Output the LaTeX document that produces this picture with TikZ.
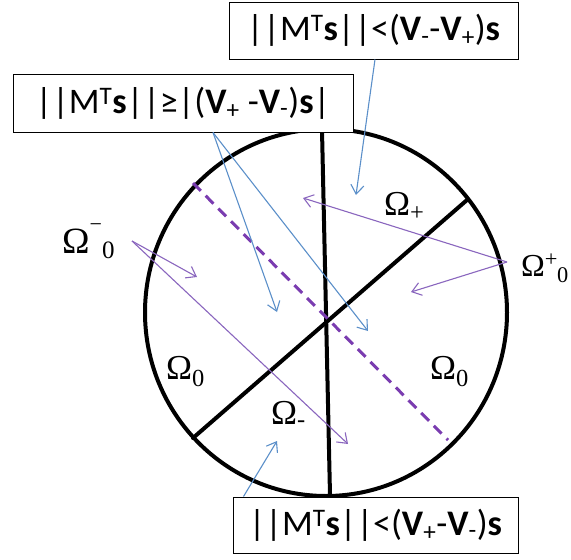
\documentclass[tikz,border=0pt]{standalone}
\usepackage{fontspec}
\setmainfont{Liberation Serif}
\newfontfamily\calib{Carlito}
\usetikzlibrary{arrows.meta}
\definecolor{bluearr}{HTML}{5B8FC9}
\definecolor{purparr}{HTML}{8A66BE}
\definecolor{purpdash}{HTML}{7A3CB0}
\begin{document}
\begin{tikzpicture}[x=1pt,y=-1pt,
  bx/.style={draw=black, line width=1pt, fill=white, inner sep=0pt, font=\calib\fontsize{36}{40}\selectfont},
  om/.style={font=\fontsize{35}{38}\selectfont, inner sep=0pt, anchor=base west},
  barr/.style={draw=bluearr, line width=1.1pt, -{Straight Barb[length=9pt,width=13pt]}},
  parr/.style={draw=purparr, line width=1.1pt, -{Straight Barb[length=9pt,width=13pt]}},
  heavy/.style={line width=4pt, line cap=round}]
\useasboundingbox (0,0) rectangle (571,560);
% circle and dividing lines
\draw[heavy] (326,312.5) ellipse [x radius=181, y radius=183.5];
\coordinate (vt) at (322,130);
\coordinate (vb) at (330,495);
\coordinate (dl) at (193,438);
\coordinate (du) at (467,200);
\draw[heavy] (vt) -- (vb);
\draw[heavy] (dl) -- (du);
\coordinate (ds) at (193,183);
\coordinate (de) at (448,440);
\draw[purpdash, line width=3pt, dash pattern=on 11pt off 7pt] (ds) -- (de);
% boxes
\node[bx, minimum width=289pt, minimum height=57pt] (topbox) at (373.5,30.5)
  {||M\textsuperscript{T}\textbf{s}||<(\textbf{V}\textsubscript{-}-\textbf{V}\textsubscript{+})\textbf{s}};
\node[bx, minimum width=340pt, minimum height=58pt] (midbox) at (183,103)
  {||M\textsuperscript{T}\textbf{s}||≥|(\textbf{V}\textsubscript{+} -\textbf{V}\textsubscript{-})\textbf{s}|};
\node[bx, minimum width=285pt, minimum height=56pt] (botbox) at (375.5,525)
  {||M\textsuperscript{T}\textbf{s}||<(\textbf{V}\textsubscript{+}-\textbf{V}\textsubscript{-})\textbf{s}};
% labels
\node[om] (omplus) at (384,215) {Ω\textsubscript{+}};
\node[om] (omzl) at (166,379) {Ω\textsubscript{0}};
\node[om] (omzr) at (430,379) {Ω\textsubscript{0}};
\node[om] (omminus) at (271,424) {Ω\textsubscript{-}};
\node[om, font=\fontsize{37}{40}\selectfont] (omzm) at (62,253)
  {Ω\raisebox{22pt}{\fontsize{22}{22}\selectfont −}\raisebox{-5pt}{\fontsize{25}{25}\selectfont 0}};
\node[om, font=\fontsize{32}{36}\selectfont] (omzp) at (521,276) {Ω\textsuperscript{+}\kern-1pt\textsubscript{0}};
% arrow end points
\coordinate (b1) at (356,195);
\coordinate (b2) at (277,312);
\coordinate (b3) at (368,331);
\coordinate (b4) at (277,441);
\coordinate (ps) at (132,241);
\coordinate (p1) at (197,277);
\coordinate (p2) at (348,444);
\coordinate (qs) at (507,262);
\coordinate (q1) at (303,198);
\coordinate (q2) at (411,292);
% blue arrows
\draw[barr] ([xshift=1.5pt]topbox.south) -- (b1);
\draw[barr] ([xshift=30pt]midbox.south) -- (b2);
\draw[barr] ([xshift=30pt]midbox.south) -- (b3);
\draw[barr] ([xshift=11pt]botbox.north west) -- (b4);
% purple arrows
\draw[parr] (ps) -- (p1);
\draw[parr] (ps) -- (p2);
\draw[parr] (qs) -- (q1);
\draw[parr] (qs) -- (q2);
\end{tikzpicture}
\end{document}
